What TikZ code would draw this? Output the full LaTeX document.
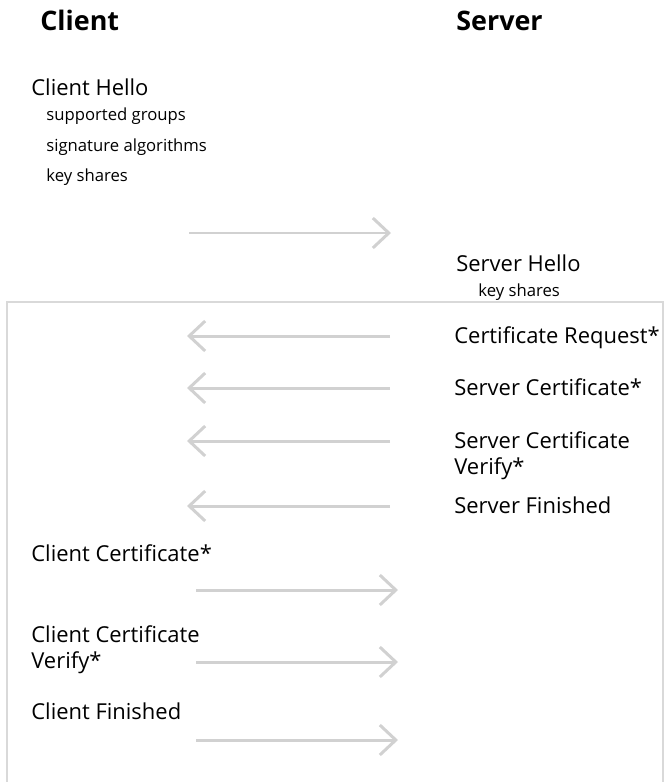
\documentclass[tikz,border=0pt]{standalone}
\usepackage{fontspec}
\setmainfont{Open Sans}
\usetikzlibrary{arrows.meta,positioning}

\begin{document}
\begin{tikzpicture}[
  x=0.02cm, y=-0.02cm,
  hd/.style={anchor=base west, inner sep=0pt,
             font=\fontsize{15.3}{19}\selectfont\bfseries},
  msg/.style={anchor=base west, inner sep=0pt, align=left,
              font=\fontsize{12.5}{14.7}\selectfont},
  sub/.style={anchor=base west, inner sep=0pt,
              font=\fontsize{9.5}{12}\selectfont},
  ar/.style={draw=black!18, line width=1.7pt,
             -{Straight Barb[length=0.32cm, width=0.6cm]}},
  frame/.style={draw=black!15, line width=0.85pt}
]
  \useasboundingbox (0,0) rectangle (664,782);

  % headers
  \node[hd] (client) at (40,30) {Client};
  \node[hd] (server) at (456,30) {Server};

  % client hello
  \node[msg] (chello) at (31,95) {Client Hello};
  \node[sub] (groups) at (46,120) {supported groups};
  \node[sub] (sigalg) at (46,151) {signature algorithms};
  \node[sub] (cshare) at (46,181) {key shares};
  \coordinate (ch-a) at (189,233);
  \coordinate (ch-b) at (391,233);
  \draw[ar] (ch-a) -- (ch-b);

  % server hello
  \node[msg] (shello) at (456,271) {Server Hello};
  \node[sub] (sshare) at (478,296) {key shares};

  % encrypted part
  \draw[frame] (7,790) -- (7,302) -- (663,302) -- (663,790);

  \node[msg] (creq) at (454,343) {Certificate Request*};
  \node[msg] (scert) at (454,395) {Server Certificate*};
  \node[msg] (scv) at (454,474) {Server Certificate\\Verify*};
  \node[msg] (sfin) at (454,513) {Server Finished};

  \coordinate (creq-a) at (390,336);
  \coordinate (creq-b) at (187,336);
  \coordinate (scert-a) at (390,388);
  \coordinate (scert-b) at (187,388);
  \coordinate (scv-a) at (390,441);
  \coordinate (scv-b) at (187,441);
  \coordinate (sfin-a) at (390,506);
  \coordinate (sfin-b) at (187,506);
  \draw[ar] (creq-a) -- (creq-b);
  \draw[ar] (scert-a) -- (scert-b);
  \draw[ar] (scv-a) -- (scv-b);
  \draw[ar] (sfin-a) -- (sfin-b);

  \node[msg] (ccert) at (31,561) {Client Certificate*};
  \node[msg] (ccv) at (31,668) {Client Certificate\\Verify*};
  \node[msg] (cfin) at (31,719) {Client Finished};

  \coordinate (ccert-a) at (196,590);
  \coordinate (ccert-b) at (398,590);
  \coordinate (ccv-a) at (196,662);
  \coordinate (ccv-b) at (398,662);
  \coordinate (cfin-a) at (196,740);
  \coordinate (cfin-b) at (398,740);
  \draw[ar] (ccert-a) -- (ccert-b);
  \draw[ar] (ccv-a) -- (ccv-b);
  \draw[ar] (cfin-a) -- (cfin-b);

\end{tikzpicture}
\end{document}
